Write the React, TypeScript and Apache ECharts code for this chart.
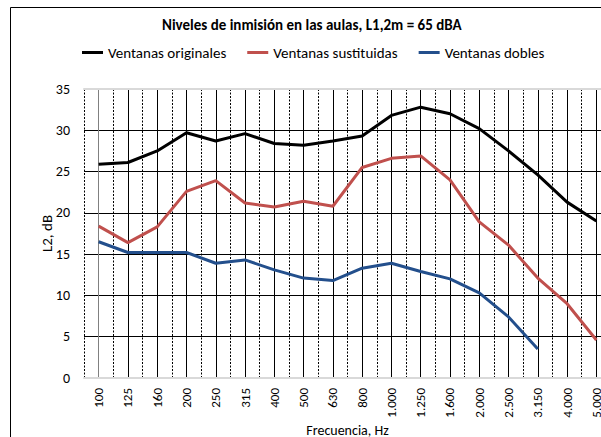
import React, { useEffect, useRef } from "react";
import * as echarts from "echarts";

const categories = ["100", "125", "160", "200", "250", "315", "400", "500", "630", "800", "1.000", "1.250", "1.600", "2.000", "2.500", "3.150", "4.000", "5.000"];
const originales = [25.9, 26.1, 27.5, 29.7, 28.7, 29.6, 28.4, 28.2, 28.7, 29.3, 31.8, 32.8, 32.0, 30.2, 27.5, 24.6, 21.3, 19.0];
const sustituidas = [18.4, 16.4, 18.3, 22.6, 23.9, 21.2, 20.7, 21.4, 20.8, 25.5, 26.6, 26.9, 24.0, 18.9, 16.1, 12.1, 9.0, 4.6];
const dobles: (number | null)[] = [16.5, 15.2, 15.2, 15.2, 13.9, 14.3, 13.1, 12.1, 11.8, 13.3, 13.9, 12.9, 12.0, 10.3, 7.4, 3.5, null, null];
const yTicks = [0, 5, 10, 15, 20, 25, 30, 35];

const FONT = "Carlito, Calibri, Lato, sans-serif";

const toPairs = (arr: (number | null)[]) => arr.map((v, i) => [i, v]);

export default function App() {
  const ref = useRef<HTMLDivElement>(null);
  useEffect(() => {
    if (!ref.current) return;
    const chart = echarts.init(ref.current, undefined, { renderer: "svg" });
    const isInt = (v: number) => Math.abs(v - Math.round(v)) < 1e-6;
    chart.setOption({
      animation: false,
      backgroundColor: "#ffffff",
      title: {
        text: "Niveles de inmisión en las aulas, L1,2m = 65 dBA",
        left: 162,
        top: 17,
        padding: 0,
        textStyle: { fontFamily: FONT, fontSize: 15, fontWeight: "bold", color: "#000" },
      },
      legend: {
        left: 82,
        top: 45,
        padding: 0,
        itemWidth: 21,
        itemHeight: 3,
        itemGap: 21,
        icon: "rect",
        textStyle: { fontFamily: FONT, fontSize: 15, color: "#000" },
        data: ["Ventanas originales", "Ventanas sustituidas", "Ventanas dobles"],
      },
      graphic: [
        {
          type: "polyline",
          shape: { points: [[10.5, 437], [10.5, 7.5], [601, 7.5]] },
          style: { stroke: "#000", lineWidth: 1, fill: "none" },
          z: 100,
        },
      ],
      grid: { left: 84, top: 89, bottom: 59, right: -10, containLabel: false, outerBoundsMode: "none" },
      xAxis: [
        {
          type: "value",
          min: -0.5,
          max: 17.5,
          interval: 0.5,
          position: "bottom",
          name: "Frecuencia, Hz",
          nameLocation: "middle",
          nameGap: 45,
          nameMoveOverlap: false,
          nameTextStyle: { fontFamily: FONT, fontSize: 14, color: "#000" },
          axisLine: { show: true, lineStyle: { color: "#d9d9d9", width: 2 } },
          axisTick: { show: false },
          axisLabel: {
            rotate: 90,
            margin: 10,
            fontFamily: FONT,
            fontSize: 13,
            color: "#000",
            formatter: (v: number) => (isInt(v) && v >= 0 && v < categories.length ? categories[Math.round(v)] : ""),
          },
          splitLine: {
            show: true,
            lineStyle: { color: ["#000", "transparent"], width: 1, type: [2, 1.5] },
          },
        },
        {
          type: "value",
          min: -0.5,
          max: 17.5,
          interval: 0.5,
          position: "top",
          axisLine: { show: true, lineStyle: { color: "#d9d9d9", width: 2 } },
          axisTick: { show: false },
          axisLabel: { show: false },
          splitLine: {
            show: true,
            lineStyle: { color: ["transparent", "#000"], width: 1 },
          },
        },
      ],
      yAxis: {
        type: "value",
        min: yTicks[0],
        max: yTicks[yTicks.length - 1],
        interval: 5,
        name: "L2, dB",
        nameLocation: "middle",
        nameGap: 30,
        nameMoveOverlap: false,
        nameTextStyle: { fontFamily: FONT, fontSize: 15, color: "#000" },
        axisLine: { show: true, lineStyle: { color: "#808080", width: 1 } },
        axisTick: { show: false },
        axisLabel: { margin: 14, fontFamily: FONT, fontSize: 14, color: "#000" },
        splitLine: {
          show: true,
          lineStyle: { color: ["#d9d9d9", "#000", "#000", "#000", "#000", "#000", "#000", "#d9d9d9"], width: 1 },
        },
      },
      series: [
        {
          name: "Ventanas originales",
          type: "line",
          xAxisIndex: 0,
          data: toPairs(originales),
          symbol: "none",
          lineStyle: { color: "#000000", width: 3 },
          itemStyle: { color: "#000000" },
          z: 5,
        },
        {
          name: "Ventanas sustituidas",
          type: "line",
          xAxisIndex: 0,
          data: toPairs(sustituidas),
          symbol: "none",
          lineStyle: { color: "#C0504D", width: 3 },
          itemStyle: { color: "#C0504D" },
          z: 5,
        },
        {
          name: "Ventanas dobles",
          type: "line",
          xAxisIndex: 0,
          data: toPairs(dobles),
          symbol: "none",
          connectNulls: false,
          lineStyle: { color: "#234F8C", width: 3 },
          itemStyle: { color: "#234F8C" },
          z: 5,
        },
      ],
    });
    return () => chart.dispose();
  }, []);
  return <div ref={ref} style={{ position: "absolute", left: 0, top: 0, width: 601, height: 437 }} />;
}
